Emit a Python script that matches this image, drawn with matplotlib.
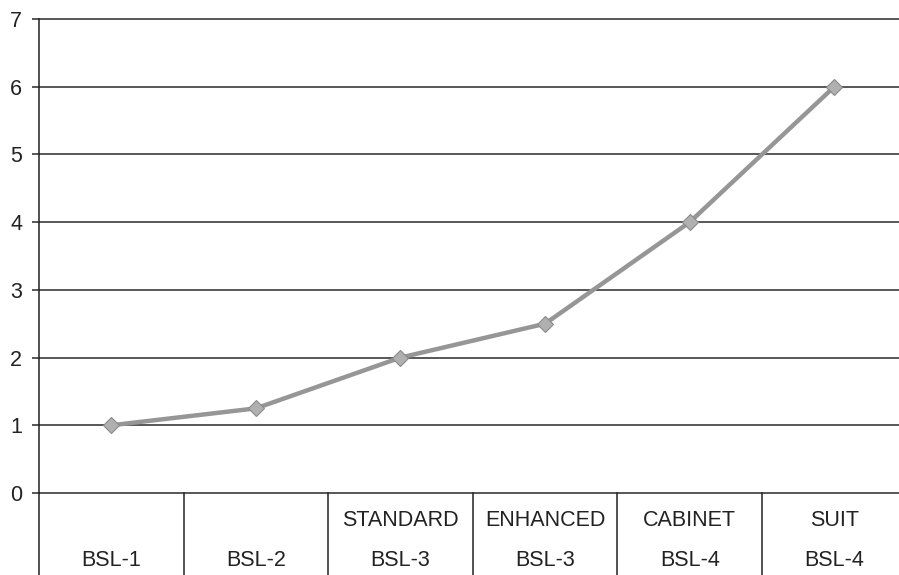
import matplotlib
matplotlib.use("Agg")
import matplotlib.pyplot as plt
from matplotlib.transforms import blended_transform_factory

plt.rcParams['font.family'] = ['Liberation Sans', 'DejaVu Sans']

# Category labels (two rows) and values
top_labels = ["", "", "STANDARD", "ENHANCED", "CABINET", "SUIT"]
bottom_labels = ["BSL-1", "BSL-2", "BSL-3", "BSL-3", "BSL-4", "BSL-4"]
values = [1, 1.25, 2, 2.5, 4, 6]
y_ticks = [0, 1, 2, 3, 4, 5, 6, 7]

W, H = 899, 575
fig = plt.figure(figsize=(W / 100, H / 100), dpi=100)
left_px, right_px, top_px, zero_px = 39, 39 + 6 * 144.6, 19, 493
ax = fig.add_axes([left_px / W, (H - zero_px) / H,
                   (right_px - left_px) / W, (zero_px - top_px) / H])

x = list(range(len(values)))
ax.set_xlim(-0.5, len(values) - 0.5)
ax.set_ylim(0, 7)

# horizontal gridlines
for v in y_ticks:
    ax.axhline(v, color="#2a2a2a", lw=1.1, zorder=1, clip_on=False)

ax.plot(x, values, color="#969696", lw=3.2, zorder=3,
        marker="D", markersize=8, markerfacecolor="#b0b0b0",
        markeredgecolor="#8a8a8a", markeredgewidth=0.8)

for s in ["top", "right", "bottom"]:
    ax.spines[s].set_visible(False)
ax.spines["left"].set_color("#222222")
ax.spines["left"].set_linewidth(1.1)

ax.set_yticks(y_ticks)
ax.tick_params(axis="y", length=5, width=1.1, color="#2a2a2a",
               labelsize=15.5, pad=7, labelcolor="#222222")
ax.set_xticks([])

# category table below the axis
trans = blended_transform_factory(ax.transData, ax.transAxes)
depth = -(575 - zero_px) / (zero_px - top_px)
ax.plot([-0.5, -0.5], [0, depth], transform=trans, color="#222222",
        lw=1.1, clip_on=False)
for b in [0.5, 1.5, 2.5, 3.5, 4.5]:
    ax.plot([b, b], [0, depth], transform=trans, color="#222222",
            lw=1.1, clip_on=False)

row1 = -(520 - zero_px) / (zero_px - top_px)
row2 = -(560 - zero_px) / (zero_px - top_px)
for i in x:
    if top_labels[i]:
        ax.text(i, row1, top_labels[i], transform=trans, ha="center",
                va="center", fontsize=15.5, color="#222222")
    ax.text(i, row2, bottom_labels[i], transform=trans, ha="center",
            va="center", fontsize=15.5, color="#222222")

fig.savefig("out.png", dpi=100)
